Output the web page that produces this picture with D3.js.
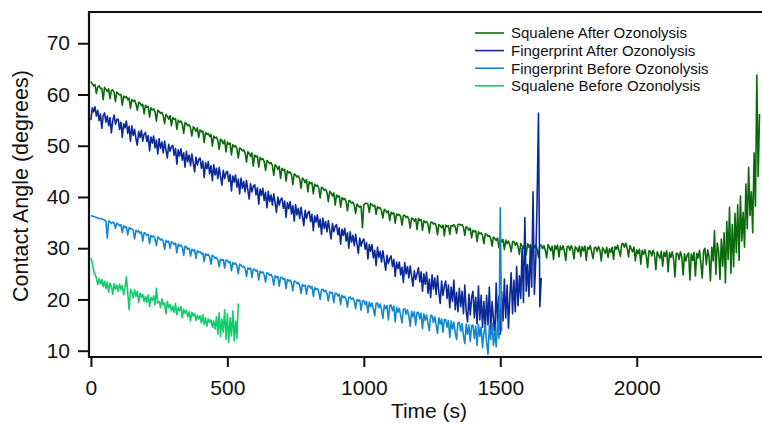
<!DOCTYPE html>
<html>
<head>
<meta charset="utf-8">
<script src="https://cdn.jsdelivr.net/npm/d3@7"></script>
<style>
  body { margin: 0; background: #fff; }
  svg { display: block; font-family: "Liberation Sans", Arial, sans-serif; }
</style>
</head>
<body>
<div id="container"></div>
<script>
var width = 762;
var height = 425;

// every series is stored as values sampled every 5 s from t = 0
var sampleStep = 5;

// Squalene After Ozonolysis (dark green), t = 0 .. 2450 s
var squaleneAfter = [
  62.5, 62.1, 61.7, 61.9, 60.2, 61.5, 61.7, 61.2, 61.2, 59.0,
  61.4, 61.0, 60.6, 61.1, 59.2, 60.8, 60.9, 60.4, 58.6, 60.5,
  60.2, 59.9, 60.0, 57.9, 59.7, 59.4, 59.6, 59.0, 59.3, 57.3,
  59.0, 58.7, 58.9, 58.2, 56.9, 58.5, 58.3, 57.8, 58.1, 56.2,
  57.9, 57.5, 57.7, 55.6, 57.4, 57.0, 57.2, 56.6, 54.8, 56.9,
  56.7, 56.3, 56.5, 55.9, 54.3, 56.1, 55.8, 55.2, 55.9, 53.9,
  55.5, 55.1, 55.3, 53.2, 55.0, 54.6, 54.8, 54.2, 52.4, 54.5,
  54.3, 53.9, 54.1, 53.5, 51.9, 53.7, 53.4, 52.8, 53.5, 51.6,
  53.1, 52.7, 52.9, 50.6, 52.6, 52.2, 52.4, 51.8, 52.2, 49.9,
  51.9, 51.5, 51.7, 51.1, 49.3, 51.3, 51.0, 50.4, 51.1, 48.8,
  50.7, 50.3, 50.5, 48.2, 50.2, 49.8, 50.0, 49.4, 47.6, 49.6,
  49.4, 49.0, 49.2, 48.6, 46.8, 48.8, 48.5, 47.9, 48.6, 46.0,
  48.2, 47.8, 48.0, 45.8, 47.7, 47.3, 47.5, 46.9, 45.2, 47.1,
  46.9, 46.5, 46.7, 46.1, 44.2, 46.3, 46.0, 45.4, 46.0, 43.6,
  45.6, 45.2, 45.4, 43.1, 45.1, 44.7, 44.9, 44.3, 42.4, 44.5,
  44.3, 43.9, 44.1, 43.5, 41.7, 43.7, 43.4, 42.8, 43.4, 41.0,
  43.0, 42.6, 42.8, 40.6, 42.5, 42.1, 42.3, 41.7, 39.8, 41.9,
  41.7, 41.3, 41.5, 40.9, 39.1, 41.1, 40.8, 40.2, 40.8, 38.4,
  40.4, 40.0, 40.2, 38.0, 39.9, 39.5, 39.7, 39.1, 37.3, 39.3,
  39.2, 38.8, 39.0, 38.4, 36.8, 38.6, 38.3, 38.0, 38.2, 34.0,
  38.5, 38.7, 38.8, 38.6, 37.0, 38.7, 38.5, 38.2, 38.4, 36.6,
  38.1, 37.8, 37.9, 37.3, 35.9, 37.6, 37.4, 36.9, 37.3, 35.4,
  37.0, 36.7, 36.9, 34.9, 36.7, 36.4, 36.6, 36.1, 34.5, 36.4,
  36.4, 36.0, 36.2, 35.7, 33.9, 35.9, 35.7, 35.3, 35.8, 33.6,
  35.8, 35.4, 35.6, 33.5, 35.4, 35.0, 35.2, 34.7, 33.0, 35.0,
  35.1, 34.7, 34.9, 34.4, 32.6, 34.6, 34.4, 34.0, 34.5, 32.4,
  34.5, 34.2, 34.4, 32.7, 34.4, 34.3, 34.6, 34.2, 32.9, 34.6,
  34.7, 34.5, 34.6, 34.1, 32.5, 34.2, 34.0, 33.5, 33.9, 32.0,
  33.5, 33.2, 33.4, 31.3, 33.2, 32.8, 33.0, 32.5, 30.9, 32.8,
  32.7, 32.3, 32.5, 31.9, 30.4, 32.2, 31.9, 31.5, 32.0, 30.1,
  31.9, 31.2, 31.7, 29.7, 31.6, 30.9, 31.4, 30.6, 29.3, 31.3,
  31.3, 30.6, 31.1, 30.3, 28.8, 30.9, 30.4, 30.0, 30.8, 28.7,
  30.9, 30.2, 30.7, 28.5, 30.8, 30.1, 30.6, 29.8, 28.2, 30.7,
  30.6, 29.9, 30.5, 29.6, 28.1, 30.7, 30.2, 29.5, 30.4, 27.8,
  30.5, 29.8, 30.6, 28.3, 30.4, 29.7, 30.5, 29.4, 27.6, 30.3,
  30.4, 29.6, 30.5, 29.8, 27.9, 30.3, 29.9, 29.3, 30.4, 28.4,
  30.3, 29.5, 30.4, 27.6, 30.2, 29.8, 30.5, 29.2, 28.0, 30.1,
  30.2, 29.4, 30.3, 29.7, 27.5, 30.1, 29.6, 29.0, 30.2, 28.2,
  29.9, 29.2, 30.2, 27.8, 30.3, 29.8, 30.6, 29.5, 28.4, 30.8,
  30.9, 30.2, 31.0, 30.0, 28.3, 30.5, 29.9, 29.3, 30.2, 27.5,
  29.7, 28.9, 29.8, 26.9, 29.6, 28.8, 29.7, 28.5, 26.2, 29.5,
  29.4, 28.5, 29.6, 28.8, 25.8, 29.3, 28.6, 28.0, 29.4, 26.5,
  29.2, 28.4, 29.5, 25.4, 29.1, 28.2, 29.3, 27.9, 24.4, 29.0,
  29.0, 27.8, 29.3, 28.3, 24.8, 28.9, 27.5, 28.7, 29.1, 23.8,
  28.9, 27.6, 29.2, 24.6, 29.0, 28.1, 29.6, 27.0, 24.2, 29.5,
  30.0, 26.8, 29.7, 28.4, 23.6, 30.2, 27.5, 33.4, 24.9, 31.0,
  29.4, 23.9, 31.8, 26.5, 33.0, 23.2, 35.2, 27.8, 38.0, 25.1,
  34.6, 26.4, 36.8, 29.1, 38.5, 27.6, 40.2, 31.4, 37.0, 30.2,
  42.5, 33.8, 45.8, 36.4, 41.0, 33.0, 48.6, 38.2, 63.8, 44.0,
  56.2
];

// Fingerprint After Ozonolysis (dark blue), t = 0 .. 1650 s
var fingerprintAfter = [
  55.0, 57.4, 56.6, 57.6, 55.8, 56.9, 54.9, 56.2, 53.4, 55.9,
  56.4, 54.6, 55.8, 53.9, 55.5, 52.5, 54.9, 56.0, 54.2, 55.1,
  55.2, 53.2, 54.6, 51.6, 54.3, 53.5, 54.8, 52.4, 53.8, 50.9,
  53.9, 52.0, 53.2, 51.4, 50.1, 52.8, 51.6, 53.0, 50.9, 52.3,
  52.6, 50.8, 52.0, 49.0, 51.7, 50.5, 51.9, 49.6, 51.1, 48.4,
  51.4, 49.5, 50.7, 48.6, 50.9, 49.2, 47.6, 50.3, 48.9, 49.8,
  50.1, 48.1, 49.5, 46.4, 49.2, 48.0, 49.4, 47.2, 48.6, 45.8,
  48.9, 46.9, 48.2, 46.1, 48.4, 46.6, 44.9, 47.8, 46.2, 47.3,
  47.6, 45.6, 47.0, 43.8, 46.7, 45.5, 46.9, 44.5, 46.1, 43.2,
  46.3, 44.3, 45.6, 43.6, 45.8, 44.0, 42.3, 45.2, 43.6, 44.7,
  45.0, 43.0, 44.4, 41.2, 44.1, 42.9, 44.3, 41.9, 43.5, 40.6,
  43.7, 41.7, 43.0, 41.0, 43.2, 41.4, 39.6, 42.6, 41.0, 42.1,
  42.4, 40.4, 41.8, 38.6, 41.5, 40.3, 41.7, 39.3, 40.9, 37.9,
  41.1, 39.1, 40.4, 38.4, 40.6, 38.8, 37.0, 40.0, 38.4, 39.5,
  39.8, 37.8, 39.2, 36.0, 38.9, 37.7, 39.1, 36.7, 38.3, 35.3,
  38.5, 36.5, 37.8, 35.8, 38.0, 36.2, 34.4, 37.4, 35.8, 36.9,
  37.2, 35.2, 36.6, 33.4, 36.3, 35.1, 36.5, 34.1, 35.7, 32.7,
  35.9, 33.9, 35.2, 33.2, 35.4, 33.6, 31.8, 34.8, 33.2, 34.3,
  34.6, 32.6, 34.0, 30.8, 33.7, 32.5, 33.9, 31.4, 33.0, 30.0,
  33.2, 31.2, 32.5, 30.5, 32.7, 30.8, 29.0, 32.0, 30.4, 31.4,
  31.8, 29.8, 31.1, 27.9, 30.7, 29.4, 30.7, 28.1, 29.6, 26.6,
  30.2, 28.2, 29.4, 27.3, 29.5, 27.6, 25.7, 28.6, 27.0, 28.0,
  28.5, 26.4, 27.8, 24.5, 27.3, 26.0, 27.3, 24.8, 26.3, 23.3,
  27.2, 25.0, 26.4, 24.2, 26.5, 24.6, 22.6, 25.6, 23.9, 25.0,
  26.2, 23.4, 25.4, 21.6, 25.0, 23.0, 25.3, 21.2, 24.0, 20.4,
  24.8, 22.0, 24.2, 21.0, 24.6, 21.4, 19.2, 23.6, 20.8, 22.6,
  23.6, 20.2, 22.8, 18.4, 22.4, 19.6, 23.8, 18.0, 21.4, 17.6,
  22.2, 18.6, 21.6, 17.2, 22.8, 17.8, 15.6, 21.0, 17.0, 20.4,
  21.6, 16.4, 20.4, 15.2, 22.6, 16.0, 20.8, 14.6, 19.6, 14.2,
  20.8, 15.0, 22.4, 14.0, 19.6, 16.2, 12.8, 23.2, 15.4, 20.6,
  13.2, 21.6, 15.8, 24.0, 16.4, 22.8, 14.4, 20.6, 25.2, 17.2,
  23.8, 17.6, 26.4, 18.8, 24.6, 20.2, 30.0, 19.4, 36.0, 21.6,
  26.8, 20.6, 30.4, 22.4, 41.0, 21.0, 27.6, 39.4, 56.4, 18.6,
  24.2
];

// Fingerprint Before Ozonolysis (light blue), t = 0 .. 1505 s
var fingerprintBefore = [
  36.4, 36.3, 36.2, 36.1, 36.0, 35.9, 35.8, 35.8, 35.7, 35.6,
  35.5, 35.2, 32.0, 35.3, 35.2, 34.8, 35.1, 34.9, 33.9, 34.9,
  34.7, 34.4, 34.6, 33.1, 34.4, 34.0, 34.2, 32.6, 34.0, 33.8,
  33.8, 33.5, 31.8, 33.5, 33.2, 33.4, 32.9, 33.2, 31.4, 33.0,
  32.9, 32.5, 32.7, 30.9, 32.5, 32.2, 32.4, 31.8, 30.5, 32.2,
  32.0, 31.6, 31.8, 31.3, 29.8, 31.5, 31.2, 31.4, 30.0, 31.3,
  31.1, 30.7, 31.0, 29.1, 30.8, 30.4, 30.6, 30.2, 28.6, 30.4,
  30.2, 29.8, 30.0, 28.5, 29.8, 29.5, 29.7, 28.0, 29.5, 29.2,
  29.3, 28.9, 29.1, 27.4, 28.9, 28.6, 28.8, 28.3, 26.9, 28.6,
  28.4, 28.0, 28.2, 27.7, 26.4, 27.9, 27.6, 27.8, 26.1, 27.7,
  27.6, 27.2, 27.4, 25.6, 27.2, 26.9, 27.1, 26.5, 25.0, 26.9,
  26.7, 26.3, 26.5, 26.0, 24.5, 26.2, 25.9, 26.1, 24.3, 25.9,
  25.9, 25.5, 25.7, 23.8, 25.5, 25.2, 25.4, 24.8, 23.4, 25.2,
  25.1, 24.7, 24.9, 24.3, 22.8, 24.6, 24.3, 24.5, 22.6, 24.3,
  24.3, 23.9, 24.1, 22.1, 23.9, 23.6, 23.8, 23.2, 21.7, 23.6,
  23.5, 23.1, 23.3, 22.7, 21.2, 22.9, 22.6, 22.8, 21.0, 22.6,
  22.7, 22.2, 22.5, 20.6, 22.3, 21.9, 22.1, 21.5, 20.0, 21.9,
  22.0, 21.5, 21.8, 21.2, 19.7, 21.5, 21.2, 21.4, 19.4, 21.2,
  21.2, 20.7, 21.0, 19.0, 20.8, 20.4, 20.6, 20.0, 18.5, 20.4,
  20.5, 20.0, 20.3, 19.7, 18.2, 20.0, 19.7, 19.9, 17.9, 19.7,
  19.8, 19.0, 19.6, 17.4, 19.5, 18.6, 19.3, 18.2, 16.8, 19.2,
  19.3, 18.4, 19.1, 18.0, 16.3, 18.9, 18.2, 18.8, 16.0, 18.8,
  18.9, 17.8, 18.7, 15.6, 18.5, 17.5, 18.3, 16.9, 15.4, 18.1,
  18.2, 17.1, 18.0, 16.8, 14.8, 17.7, 16.6, 17.6, 15.0, 17.5,
  17.5, 16.2, 17.3, 14.3, 17.2, 15.9, 17.0, 15.4, 13.9, 16.9,
  16.8, 15.5, 16.6, 15.0, 13.4, 16.4, 15.2, 16.2, 13.6, 16.1,
  16.1, 14.6, 15.9, 12.6, 15.8, 14.2, 15.6, 13.4, 12.2, 15.5,
  15.5, 13.8, 15.3, 12.9, 11.4, 15.2, 13.2, 15.0, 11.8, 14.9,
  15.0, 12.4, 14.8, 11.0, 15.1, 12.8, 14.6, 10.6, 13.4, 15.0,
  11.6, 9.3, 14.8, 12.2, 15.4, 11.0, 13.8, 10.8, 15.6, 12.4,
  37.9, 13.8
];

// Squalene Before Ozonolysis (bright green), t = 0 .. 540 s
var squaleneBefore = [
  28.1, 27.2, 25.6, 24.9, 24.2, 22.9, 24.1, 23.0, 23.9, 22.5,
  23.6, 22.1, 23.4, 21.4, 23.2, 22.6, 21.0, 23.1, 22.0, 22.8,
  21.6, 23.0, 21.9, 22.7, 20.9, 22.3, 24.4, 21.2, 18.0, 22.0,
  21.4, 20.3, 21.9, 20.6, 21.6, 19.4, 21.2, 20.4, 21.0, 19.6,
  20.6, 19.5, 20.9, 18.6, 20.4, 19.8, 20.7, 19.0, 22.2, 19.3,
  19.6, 18.4, 20.1, 18.9, 19.3, 17.2, 19.6, 18.4, 19.0, 17.8,
  18.7, 17.5, 19.2, 17.0, 18.4, 17.8, 18.6, 16.4, 18.1, 17.3,
  17.9, 16.6, 17.6, 15.8, 17.5, 16.8, 17.3, 15.9, 16.9, 16.2,
  16.8, 15.4, 17.0, 15.1, 16.4, 14.8, 16.2, 15.5, 16.0, 14.6,
  15.8, 14.2, 16.6, 13.2, 17.4, 12.8, 16.2, 13.6, 18.0, 12.2,
  17.2, 11.6, 16.4, 12.9, 17.8, 11.9, 15.8, 12.4, 19.2
];

var seriesNames = [
  "Squalene After Ozonolysis",
  "Fingerprint After Ozonolysis",
  "Fingerprint Before Ozonolysis",
  "Squalene Before Ozonolysis"
];
var seriesColors = ["#0b6a0b", "#0b2a9a", "#1188d0", "#12cc6c"];
var seriesValues = [squaleneAfter, fingerprintAfter, fingerprintBefore, squaleneBefore];

var xTicks = [0, 500, 1000, 1500, 2000];
var yTicks = [10, 20, 30, 40, 50, 60, 70];

var svg = d3.select("div#container").append("svg")
    .attr("width", width)
    .attr("height", height);

var plotLeft = 89, plotRight = 762, plotTop = 12, plotBottom = 357;

var x = d3.scaleLinear().domain([-7, 2459]).range([plotLeft, plotRight]);
var y = d3.scaleLinear().domain([8.77, 76.1]).range([plotBottom, plotTop]);

svg.append("clipPath").attr("id", "plot")
  .append("rect")
    .attr("x", plotLeft).attr("y", plotTop)
    .attr("width", plotRight - plotLeft).attr("height", plotBottom - plotTop);

var line = d3.line()
    .x(function(d, i) { return x(i * sampleStep); })
    .y(function(d) { return y(d); });

// traces, first listed is drawn underneath
svg.append("g").attr("clip-path", "url(#plot)")
  .selectAll("path")
  .data(seriesValues)
  .enter()
  .append("path")
    .attr("d", line)
    .attr("fill", "none")
    .attr("stroke", function(d, i) { return seriesColors[i]; })
    .attr("stroke-width", 1.6)
    .attr("stroke-linejoin", "round");

// axes
var yAxis = d3.axisLeft(y).tickValues(yTicks).tickFormat(d3.format("d")).tickSize(11).tickPadding(8);
var xAxis = d3.axisBottom(x).tickValues(xTicks).tickFormat(d3.format("d")).tickSize(10).tickPadding(6);

var gy = svg.append("g").attr("transform", "translate(" + plotLeft + ",0)").call(yAxis);
var gx = svg.append("g").attr("transform", "translate(0," + plotBottom + ")").call(xAxis);

[gx, gy].forEach(function(g) {
  g.select(".domain").remove();
  g.selectAll(".tick line").attr("stroke", "#111").attr("stroke-width", 2);
  g.selectAll(".tick text")
    .attr("fill", "#111")
    .style("font-size", "21px")
    .style("font-family", "'Liberation Sans', Arial, sans-serif");
});
gx.selectAll(".tick text").attr("y", 38).attr("dy", 0);

// frame: left, top and bottom lines
svg.append("path")
    .attr("d", "M" + plotRight + "," + plotTop + "H" + plotLeft + "V" + plotBottom + "H" + plotRight)
    .attr("fill", "none")
    .attr("stroke", "#111")
    .attr("stroke-width", 2.2);

// axis titles
svg.append("text")
    .attr("x", 429).attr("y", 418)
    .attr("text-anchor", "middle")
    .style("font-size", "21px")
    .attr("fill", "#111")
    .text("Time (s)");

svg.append("text")
    .attr("transform", "translate(28,186) rotate(-90)")
    .attr("text-anchor", "middle")
    .style("font-size", "21.5px")
    .attr("fill", "#111")
    .text("Contact Angle (degrees)");

// legend
var legend = svg.append("g").selectAll("g")
  .data(seriesNames)
  .enter()
  .append("g")
    .attr("transform", function(d, i) { return "translate(475," + (33 + i * 17.6) + ")"; });

legend.append("line")
    .attr("x1", 0).attr("x2", 29)
    .attr("stroke", function(d, i) { return seriesColors[i]; })
    .attr("stroke-width", 1.6);

legend.append("text")
    .attr("x", 36).attr("dy", "0.36em")
    .style("font-size", "15px")
    .attr("fill", "#111")
    .text(function(d) { return d; });
</script>
</body>
</html>
